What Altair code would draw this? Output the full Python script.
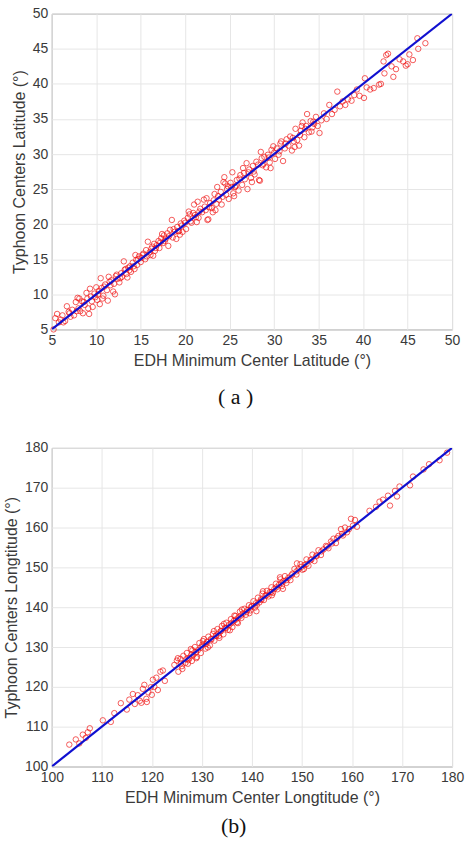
import altair as alt
import pandas as pd

# Panel (a): latitude
lat_x = [5.2,5.4,5.6,5.8,6.0,6.2,6.5,6.7,6.9,7.1,7.3,7.5,7.7,7.9,8.0,8.2,8.4,8.5,8.7,8.9,9.0,9.2,9.3,9.5,9.6,9.8,9.9,10.0,10.1,10.3,
         10.4,10.5,10.6,10.8,11.0,11.2,11.3,11.5,11.7,11.9,12.0,12.1,12.3,12.4,12.6,12.8,12.9,13.1,13.2,13.4,13.6,13.8,13.9,14.1,14.3,14.5,14.6,14.8,15.0,15.1,
         15.3,15.5,15.6,15.8,16.0,16.1,16.3,16.5,16.6,16.8,17.0,17.1,17.3,17.5,17.6,17.8,18.0,18.1,18.3,18.5,18.6,18.8,19.0,19.1,19.3,19.5,19.7,19.9,20.1,20.3,
         20.5,20.7,20.9,21.0,21.2,21.4,21.5,21.7,21.9,22.1,22.3,22.5,22.6,22.8,23.0,23.1,23.3,23.5,23.6,23.8,24.0,24.1,24.3,24.4,24.6,24.8,24.9,25.1,25.3,25.4,
         25.6,25.8,26.0,26.2,26.4,26.6,26.9,27.0,27.2,27.4,27.6,27.8,28.0,28.3,28.4,28.5,28.7,28.9,29.1,29.3,29.5,29.7,29.9,30.1,30.3,30.5,30.7,31.0,31.2,31.4,
         31.6,31.8,32.0,32.2,32.4,32.6,32.8,33.0,33.2,33.4,33.6,33.7,33.9,34.1,34.3,34.5,34.7,34.9,35.1,35.3,35.6,35.9,36.2,36.5,36.8,
         37.1,37.4,37.7,38.0,38.3,38.7,39.0,39.3,39.6,40.1,40.2,40.4,40.8,41.2,41.8,42.0,42.3,42.4,42.6,42.8,43.2,43.4,43.7,44.1,44.5,44.8,45.0,45.2,45.6,46.1,46.2,47.0,
         6.3,7.0,7.8,8.6,9.4,10.2,10.9,11.6,12.2,12.7,13.3,13.7,14.2,14.7,15.2,15.7,16.2,16.7,17.2,17.7,18.2,18.7,19.2,19.6,20.0,20.6,21.1,21.6,22.2,22.7,
         23.2,23.7,24.2,24.7,25.2,25.7,26.1,26.7,27.1,27.7,28.2,28.8,29.4,30.0,30.6,31.3,32.1,32.9,33.5,34.4,
         8.1,9.1,10.7,11.4,13.5,14.4,16.4,17.4,19.4,20.4,21.3,22.4,23.4,24.5,25.5,26.5,27.5,28.6,29.6,30.8,32.3,33.1,34.2]
lat_y = [5.0,6.6,7.2,6.0,6.4,7.0,6.2,8.3,7.5,6.8,7.8,7.0,8.9,9.5,8.0,7.6,9.0,7.3,8.5,10.2,9.4,7.2,10.8,9.0,8.2,10.1,9.6,11.0,9.2,10.5,
         8.6,12.3,10.9,9.8,11.4,10.6,9.1,11.8,12.0,10.4,11.5,10.0,12.8,12.2,11.7,13.0,12.5,14.7,13.5,12.9,13.8,14.0,13.2,14.5,13.6,14.9,14.2,15.4,14.6,15.2,
         15.8,15.0,16.3,17.5,16.0,15.6,16.8,17.2,16.2,17.0,17.6,16.6,18.0,17.3,18.4,17.9,18.7,16.9,19.2,20.6,18.1,18.9,17.9,19.6,19.0,20.1,18.9,20.5,19.3,20.9,
         21.4,20.2,21.6,22.8,21.0,23.2,20.9,22.2,21.7,23.5,22.0,20.6,20.7,23.0,22.3,21.7,24.3,22.9,25.3,23.5,24.6,22.8,26.0,26.7,24.2,25.4,23.6,25.9,27.4,24.4,
         25.3,26.3,24.8,27.0,25.6,27.3,28.7,25.0,27.8,26.6,28.3,27.1,28.9,26.3,26.2,30.3,28.4,29.6,28.1,29.9,28.8,30.6,31.1,29.3,30.8,29.9,31.5,29.0,30.8,32.1,
         31.2,32.5,30.5,31.8,33.6,32.0,31.2,33.3,34.5,32.4,34.0,35.7,33.1,34.7,33.8,34.3,35.3,34.0,33.0,34.8,35.8,35.0,37.0,35.7,36.3,
         38.9,36.8,37.5,37.0,37.8,37.6,38.4,39.2,38.3,38.0,40.8,39.5,39.2,39.4,39.9,40.0,43.2,41.5,44.1,44.3,42.5,41.0,42.1,43.5,43.2,42.6,42.8,44.2,43.4,46.5,45.0,45.8,
         6.0,7.3,7.6,8.9,9.7,10.0,11.1,11.3,12.6,12.3,13.6,13.4,14.0,15.0,15.6,15.4,16.5,16.6,17.4,17.6,18.3,19.3,19.0,19.8,20.2,20.4,21.3,21.8,22.5,22.4,
         23.4,24.0,23.9,25.0,25.3,25.5,26.5,26.4,27.4,27.5,28.5,28.6,29.5,30.2,30.4,31.5,32.3,32.7,33.6,34.6,
         9.4,8.0,9.4,12.5,12.4,15.6,15.5,18.6,18.5,21.8,20.3,23.7,22.0,25.8,24.0,28.0,26.0,29.4,28.0,31.8,31.0,34.0,33.2]

# Panel (b): longitude
lon_x = [103.5,104.8,105.5,106.2,106.8,107.6,107.2,110.2,111.8,112.5,113.8,115.0,115.5,116.2,116.6,117.2,117.6,118.2,118.5,118.9,119.3,119.8,120.2,120.5,120.9,121.2,121.7,122.2,122.6,119.0,117.9,120.0,
         124.5,125.0,125.3,125.7,126.0,126.3,126.7,127.0,127.2,127.5,127.8,128.0,128.3,128.6,128.9,129.2,129.5,129.8,130.1,130.4,130.7,131.0,131.3,131.6,131.9,132.2,132.5,132.8,
         133.1,133.4,133.7,134.0,134.3,134.6,134.9,135.2,135.5,135.8,136.1,136.4,136.7,137.0,137.3,137.6,137.9,138.2,138.5,138.8,139.1,139.4,139.7,140.0,140.3,140.6,140.9,
         141.2,141.5,141.8,142.1,142.4,142.7,143.0,143.3,143.6,143.9,144.2,144.5,144.8,145.1,145.4,145.7,146.0,146.3,146.6,146.9,147.3,147.7,148.1,148.5,148.9,149.3,149.7,
         150.1,150.5,150.9,151.3,151.7,152.1,152.5,152.9,153.3,153.8,154.3,154.8,155.3,155.8,156.3,156.8,157.3,157.8,158.2,158.6,159.0,159.4,159.8,160.2,160.6,161.0,
         163.5,164.8,165.5,166.2,167.2,167.6,168.6,169.0,169.5,171.6,172.2,174.3,175.4,177.5,179.0,
         125.8,126.9,127.9,128.8,129.9,130.9,131.8,132.9,133.8,134.8,135.9,136.8,137.8,138.9,139.8,140.8,141.9,142.9,143.9,144.9,145.9,146.9,147.9,148.9,149.9,150.9,151.9,152.9,153.9,155.0,156.0,157.0,158.0,
         125.2,126.1,127.3,128.1,129.0,130.2,131.2,132.4,133.5,134.4,135.6,136.5,137.2,138.0,139.5,141.0,142.2,144.0,145.6,146.2,149.0,150.4]
lon_y = [105.5,106.8,105.8,108.0,107.2,109.6,108.6,111.6,111.2,113.4,115.9,114.3,116.8,118.2,115.7,117.9,116.5,119.5,120.5,117.0,118.6,119.9,121.8,120.0,122.3,119.2,123.8,124.1,121.5,116.2,116.0,118.0,
         125.5,126.6,123.8,127.0,125.2,127.8,126.0,128.5,125.8,127.2,129.5,126.5,128.0,130.0,127.2,129.2,131.0,128.5,130.5,132.0,129.6,131.3,132.6,130.4,131.9,133.3,131.6,132.9,
         134.5,132.8,133.9,135.3,133.2,134.8,136.1,134.3,135.6,137.0,135.0,136.6,137.8,136.2,137.4,138.9,137.3,138.4,139.6,138.1,139.3,140.5,139.2,140.3,141.5,139.9,139.0,
         142.4,141.2,142.0,143.4,141.8,142.9,144.1,142.7,143.8,145.0,143.6,144.6,145.9,144.5,145.6,147.0,145.3,146.5,147.8,146.1,147.4,146.8,148.4,149.6,148.2,149.5,150.8,
         149.4,150.6,152.0,150.4,151.8,153.2,151.6,152.8,154.3,153.1,154.5,155.4,154.8,156.5,157.2,156.1,157.9,159.6,158.0,160.0,158.8,159.6,162.2,160.5,161.9,160.2,
         164.2,165.2,166.5,167.0,168.0,165.5,169.2,167.8,170.3,170.6,172.8,174.6,175.9,176.9,178.8,
         125.9,127.0,128.1,128.7,130.0,130.8,132.0,132.8,134.0,134.7,136.0,136.9,137.9,138.8,140.0,141.0,141.8,143.0,143.8,145.0,146.1,146.8,148.0,149.0,150.1,150.8,152.0,153.0,154.0,155.2,156.0,157.3,158.4,
         127.2,124.5,126.7,129.2,127.5,131.5,129.9,134.0,132.3,135.8,134.2,137.9,136.0,139.4,138.5,140.6,144.0,143.0,147.5,144.6,151.0,149.6]

lat_ticks = [5, 10, 15, 20, 25, 30, 35, 40, 45, 50]
lon_ticks = [100, 110, 120, 130, 140, 150, 160, 170, 180]
lat_line = [5, 50]
lon_line = [100, 180]

df_a = pd.DataFrame({"x": lat_x, "y": lat_y})
df_b = pd.DataFrame({"x": lon_x, "y": lon_y})
line_a = pd.DataFrame({"x": lat_line, "y": lat_line})
line_b = pd.DataFrame({"x": lon_line, "y": lon_line})

RED = "#f01010"
BLUE = "#1010d0"


def panel(df, ldf, ticks, dom, xt, yt, cap, cap_off, w, h):
    xs = alt.Scale(domain=dom, nice=False, zero=False)
    ys = alt.Scale(domain=dom, nice=False, zero=False)
    ax = dict(values=ticks, labelOverlap=False, labelFlush=False, grid=True, ticks=False,
              domain=False, labelSeparation=0)
    pts = alt.Chart(df).mark_point(
        shape="circle", filled=False, color=RED, size=30, strokeWidth=0.8, opacity=0.85
    ).encode(
        x=alt.X("x:Q", scale=xs, title=xt, axis=alt.Axis(**ax)),
        y=alt.Y("y:Q", scale=ys, title=yt, axis=alt.Axis(**ax)),
    )
    ln = alt.Chart(ldf).mark_line(color=BLUE, strokeWidth=2.2, clip=True).encode(
        x=alt.X("x:Q", scale=xs, title=xt, axis=alt.Axis(**ax)),
        y=alt.Y("y:Q", scale=ys, title=yt, axis=alt.Axis(**ax)),
    )
    return alt.layer(pts, ln).properties(
        width=w, height=h,
        title=alt.TitleParams(cap, orient="bottom", anchor="middle", frame="bounds",
                              font="Liberation Serif", fontSize=22, fontWeight="normal",
                              color="#111", offset=cap_off),
    )


a = panel(df_a, line_a, lat_ticks, [5, 50], "EDH Minimum Center Latitude (°)",
          "Typhoon Centers Latitude (°)", "( a )", 19, 402, 317)
b = panel(df_b, line_b, lon_ticks, [100, 180], "EDH Minimum Center Longtitude (°)",
          "Typhoon Centers Longtitude (°)", "(b)", 11, 402, 320)

chart = alt.vconcat(a, b, spacing=31).properties(
    padding={"left": 3, "top": 4, "right": 0, "bottom": 0},
    background="white",
).configure_view(
    stroke="#808080", strokeWidth=1
).configure_axis(
    labelFont="Liberation Sans", labelFontSize=14, labelColor="#3a3a3a",
    titleFont="Liberation Sans", titleFontSize=16, titleFontWeight="normal", titleColor="#3a3a3a",
    gridColor="#e6e6e6", gridWidth=1,
    labelPadding=4, titlePadding=5, labelOverlap=False,
)

chart.save("out.html", embed_options={"renderer": "svg", "actions": False})
